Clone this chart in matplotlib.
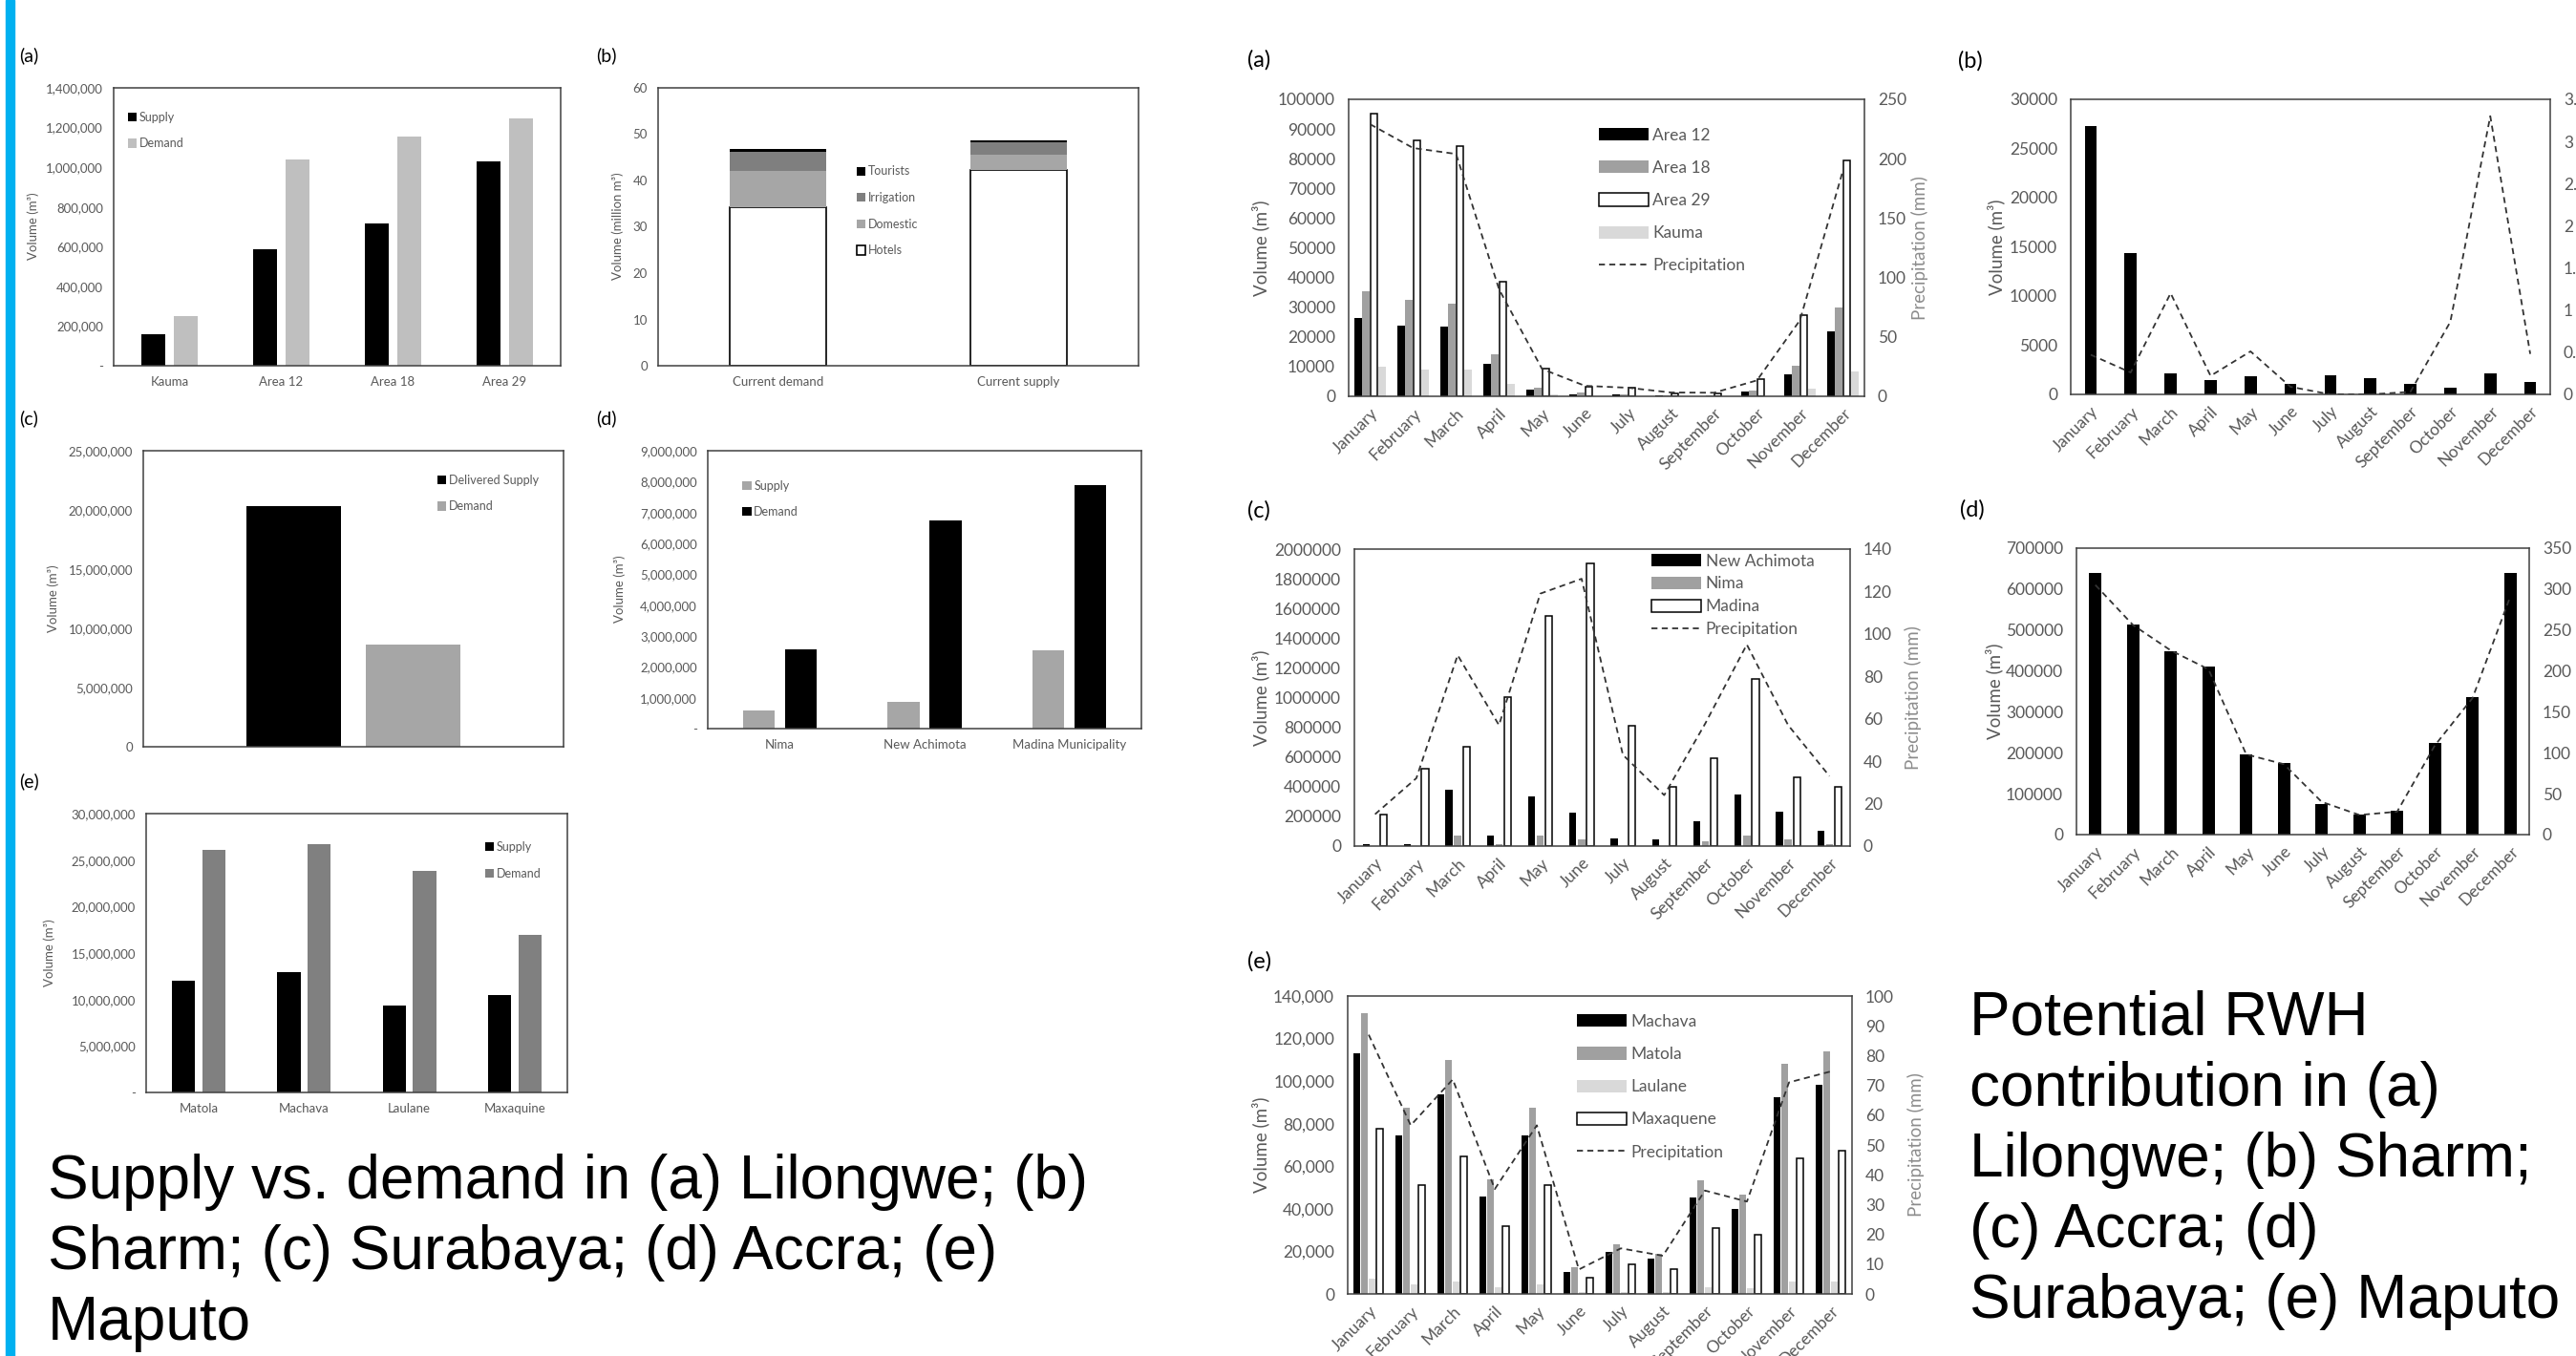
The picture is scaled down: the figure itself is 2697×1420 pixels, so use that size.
import matplotlib
matplotlib.use("Agg")
import matplotlib.pyplot as plt
import numpy as np
from matplotlib.patches import Rectangle
from matplotlib.ticker import FuncFormatter, MultipleLocator

plt.rcParams["font.family"] = ["Lato", "DejaVu Sans"]

W, H = 2697, 1420
TICK = "#595959"
FRAME = "#404040"

MONTHS = ["January", "February", "March", "April", "May", "June", "July",
          "August", "September", "October", "November", "December"]

# ---- left column: supply vs demand ----
LIL_AREAS = ["Kauma", "Area 12", "Area 18", "Area 29"]
LIL_SUPPLY = [157000, 587000, 718000, 1030000]
LIL_DEMAND = [249000, 1038000, 1153000, 1247000]

SHARM_CATS = ["Current demand", "Current supply"]
SHARM_HOTELS = [34.2, 42.2]
SHARM_DOMESTIC = [7.8, 3.3]
SHARM_IRRIGATION = [4.2, 2.7]
SHARM_TOURISTS = [0.7, 0.5]

SURA_SUPPLY = [20300000]
SURA_DEMAND = [8660000]

ACCRA_AREAS = ["Nima", "New Achimota", "Madina Municipality"]
ACCRA_SUPPLY = [600000, 865000, 2530000]
ACCRA_DEMAND = [2570000, 6750000, 7900000]

MAP_AREAS = ["Matola", "Machava", "Laulane", "Maxaquine"]
MAP_SUPPLY = [12060000, 12900000, 9330000, 10450000]
MAP_DEMAND = [26070000, 26700000, 23850000, 17000000]

# ---- right column: potential RWH contribution ----
LIL_A12 = [26300, 23800, 23400, 10900, 2100, 750, 700, 200, 100, 1700, 7500, 21900]
LIL_A18 = [35500, 32500, 31300, 14000, 3000, 1200, 500, 200, 200, 2000, 10300, 29800]
LIL_A29 = [95200, 86100, 84100, 38600, 9200, 3300, 2900, 1100, 1100, 5900, 27300, 79300]
LIL_KAUMA = [9900, 8900, 8900, 4100, 500, 0, 0, 0, 0, 0, 2700, 8400]
LIL_PRECIP = [229, 209, 204, 90, 23, 8.8, 7.2, 3.2, 3, 13.4, 64, 190]

SHARM_RWH = [27300, 14350, 2100, 1500, 1800, 1100, 1950, 1650, 1100, 650, 2100, 1230]
SHARM_PRECIP = [0.47, 0.26, 1.2, 0.22, 0.51, 0.09, 0, 0, 0.03, 0.86, 3.3, 0.48]

ACC_ACHIMOTA = [13000, 13000, 377000, 71000, 332000, 225000, 54000, 43000, 167000, 349000, 234000, 101000]
ACC_NIMA = [0, 0, 71000, 13000, 71000, 43000, 0, 0, 34000, 71000, 43000, 13000]
ACC_MADINA = [214000, 521000, 671000, 1003000, 1550000, 1904000, 810000, 397000, 590000, 1125000, 463000, 397000]
ACC_PRECIP = [15, 32, 90, 57, 119, 126, 43, 24, 58, 95, 57, 33]

SURA_RWH = [640000, 513000, 449000, 410000, 196000, 176000, 74000, 49000, 59000, 223000, 335000, 640000]
SURA_PRECIP = [305, 256, 225, 202, 98, 86, 40, 24, 28, 109, 167, 291]

MAP_MACHAVA = [113000, 74700, 94000, 45900, 74700, 10500, 19900, 16400, 45100, 39900, 92600, 98200]
MAP_MATOLA = [132000, 87400, 110000, 54000, 87400, 12400, 23500, 18700, 53300, 46600, 108000, 114000]
MAP_LAULANE = [7200, 4500, 5700, 3300, 4500, 1000, 1000, 700, 3300, 2500, 5700, 5700]
MAP_MAXAQUENE = [77700, 51100, 64500, 31700, 51100, 7800, 13700, 11700, 31100, 27600, 63800, 67200]
MAP_PRECIP = [87, 56.6, 72, 35.2, 56.6, 8.2, 15.3, 12.8, 34.7, 31, 71, 74.7]

LFS = 9.5    # left-column text size
RFS = 12.5   # right-column text size


def place(fig, box):
    x0, y0, x1, y1 = box
    return fig.add_axes([x0 / W, 1 - y1 / H, (x1 - x0) / W, (y1 - y0) / H])


def ftext(fig, x, y, s, **kw):
    return fig.text(x / W, 1 - y / H, s, **kw)


def frame(ax, fs, pad):
    for s in ax.spines.values():
        s.set_color(FRAME)
        s.set_linewidth(1.1)
    ax.tick_params(length=0, labelsize=fs, colors=TICK, pad=pad)


def acct(v, _):
    return "-" if v == 0 else f"{int(round(v)):,}"


def comma(v, _):
    return f"{int(round(v)):,}"


def plain(v, _):
    return f"{int(round(v))}" if float(v).is_integer() else f"{v:g}"


def left_legend(ax, x, y, handles=None, labels=None):
    if handles is None:
        handles, labels = ax.get_legend_handles_labels()
    ax.legend(handles, labels, loc="upper left", bbox_to_anchor=(x, y), frameon=False,
              fontsize=9, handlelength=0.75, handleheight=0.75, handletextpad=0.2,
              labelspacing=1.25, borderaxespad=0, borderpad=0, labelcolor=TICK)


def supply_demand(ax, cats, first, second, c1, c2, n1, n2, ymax, step, fmt):
    x = np.arange(len(cats))
    ax.bar(x - 0.145, first, 0.22, color=c1, label=n1)
    ax.bar(x + 0.145, second, 0.22, color=c2, label=n2)
    ax.set_xlim(-0.5, len(cats) - 0.5)
    ax.set_ylim(0, ymax)
    ax.yaxis.set_major_locator(MultipleLocator(step))
    ax.yaxis.set_major_formatter(FuncFormatter(fmt))
    ax.set_xticks(x, cats)
    frame(ax, LFS, 8)


fig = plt.figure(figsize=(W / 100, H / 100), dpi=100)
fig.patches.append(Rectangle((6 / W, 0), 9 / W, 1, transform=fig.transFigure,
                             color="#00B0F0", zorder=0))

# (a) Lilongwe
ax = place(fig, (119, 92, 587, 383))
supply_demand(ax, LIL_AREAS, LIL_SUPPLY, LIL_DEMAND, "black", "#BFBFBF",
              "Supply", "Demand", 1400000, 200000, acct)
left_legend(ax, 0.032, 0.915)
ftext(fig, 35, 237, "Volume (m³)", rotation=90, ha="center", va="center", fontsize=LFS, color=TICK)
ftext(fig, 20, 58, "(a)", fontsize=14, va="center")

# (b) Sharm
ax = place(fig, (689, 92, 1192, 383))
x = np.arange(len(SHARM_CATS))
b0 = np.zeros(2)
ax.bar(x, SHARM_HOTELS, 0.4, color="white", edgecolor="black", linewidth=1.2, label="Hotels")
b0 += SHARM_HOTELS
ax.bar(x, SHARM_DOMESTIC, 0.4, bottom=b0, color="#A6A6A6", label="Domestic")
b0 += SHARM_DOMESTIC
ax.bar(x, SHARM_IRRIGATION, 0.4, bottom=b0, color="#7F7F7F", label="Irrigation")
b0 += SHARM_IRRIGATION
ax.bar(x, SHARM_TOURISTS, 0.4, bottom=b0, color="black", label="Tourists")
ax.set_xlim(-0.5, 1.5)
ax.set_ylim(0, 60)
ax.yaxis.set_major_locator(MultipleLocator(10))
ax.set_xticks(x, SHARM_CATS)
frame(ax, LFS, 8)
h, l = ax.get_legend_handles_labels()
left_legend(ax, 0.413, 0.72, h[::-1], l[::-1])
ftext(fig, 647, 237, "Volume (million m³)", rotation=90, ha="center", va="center",
      fontsize=LFS, color=TICK)
ftext(fig, 624, 58, "(b)", fontsize=14, va="center")

# (c) Surabaya
ax = place(fig, (150, 472, 590, 782))
ax.bar([-0.142], SURA_SUPPLY, 0.223, color="black", label="Delivered Supply")
ax.bar([0.142], SURA_DEMAND, 0.223, color="#A6A6A6", label="Demand")
ax.set_xlim(-0.5, 0.5)
ax.set_ylim(0, 25000000)
ax.yaxis.set_major_locator(MultipleLocator(5000000))
ax.yaxis.set_major_formatter(FuncFormatter(comma))
ax.set_xticks([])
frame(ax, LFS, 8)
left_legend(ax, 0.70, 0.92)
ftext(fig, 56, 627, "Volume (m³)", rotation=90, ha="center", va="center", fontsize=LFS, color=TICK)
ftext(fig, 20, 438, "(c)", fontsize=14, va="center")

# (d) Accra
ax = place(fig, (741, 472, 1195, 763))
supply_demand(ax, ACCRA_AREAS, ACCRA_SUPPLY, ACCRA_DEMAND, "#A6A6A6", "black",
              "Supply", "Demand", 9000000, 1000000, acct)
left_legend(ax, 0.08, 0.895)
ftext(fig, 649, 617, "Volume (m³)", rotation=90, ha="center", va="center", fontsize=LFS, color=TICK)
ftext(fig, 624, 438, "(d)", fontsize=14, va="center")

# (e) Maputo
ax = place(fig, (153, 852, 594, 1144))
supply_demand(ax, MAP_AREAS, MAP_SUPPLY, MAP_DEMAND, "black", "#808080",
              "Supply", "Demand", 30000000, 5000000, acct)
left_legend(ax, 0.805, 0.90)
ftext(fig, 52, 998, "Volume (m³)", rotation=90, ha="center", va="center", fontsize=LFS, color=TICK)
ftext(fig, 20, 818, "(e)", fontsize=14, va="center")

ftext(fig, 50, 1312, "Supply vs. demand in (a) Lilongwe; (b)\nSharm; (c) Surabaya; (d) Accra; (e)\nMaputo",
      family="Liberation Sans", fontsize=46, va="center", ha="left", linespacing=1.3)


# ---- right column helpers ----
def month_panel(box, series, names, colors, edges, width, offsets, ymax, ystep, yfmt,
                precip, rmax, rstep, vol_x, precip_x=None):
    ax = place(fig, box)
    x = np.arange(12)
    for vals, nm, c, e, off in zip(series, names, colors, edges, offsets):
        ax.bar(x + off, vals, width, color=c, edgecolor=e,
               linewidth=1.1 if e != "none" else 0, label=nm)
    ax.set_xlim(-0.5, 11.5)
    ax.set_ylim(0, ymax)
    ax.yaxis.set_major_locator(MultipleLocator(ystep))
    ax.yaxis.set_major_formatter(FuncFormatter(yfmt))
    ax.set_xticks(x, MONTHS, rotation=45, ha="right", rotation_mode="anchor")
    frame(ax, RFS, 10)
    ax.tick_params(axis="x", pad=7)
    ax2 = ax.twinx()
    ax2.plot(x, precip, color="#333333", lw=1.3, dashes=(3.5, 2.5), label="Precipitation")
    ax2.set_ylim(0, rmax)
    ax2.yaxis.set_major_locator(MultipleLocator(rstep))
    ax2.yaxis.set_major_formatter(FuncFormatter(plain))
    for s in ax2.spines.values():
        s.set_visible(False)
    ax2.tick_params(length=0, labelsize=RFS, colors=TICK, pad=10)
    yc = (box[1] + box[3]) / 2
    ftext(fig, vol_x, yc, "Volume (m³)", rotation=90, ha="center", va="center",
          fontsize=13.5, color=TICK)
    if precip_x is not None:
        ftext(fig, precip_x, yc, "Precipitation (mm)", rotation=90, ha="center",
              va="center", fontsize=13.5, color="#8C8C8C")
    return ax, ax2


def month_legend(ax, ax2, x, y, spacing):
    h1, l1 = ax.get_legend_handles_labels()
    h2, l2 = ax2.get_legend_handles_labels()
    ax.legend(h1 + h2, l1 + l2, loc="upper left", bbox_to_anchor=(x, y), frameon=False,
              fontsize=12.5, handlelength=3.0, handleheight=0.8, handletextpad=0.25,
              labelspacing=spacing, borderaxespad=0, borderpad=0, labelcolor=TICK)


ax, ax2 = month_panel((1412, 104, 1952, 415),
                      [LIL_A12, LIL_A18, LIL_A29, LIL_KAUMA],
                      ["Area 12", "Area 18", "Area 29", "Kauma"],
                      ["black", "#A0A0A0", "white", "#D9D9D9"],
                      ["none", "none", "black", "none"],
                      0.17, [-0.28, -0.095, 0.085, 0.28],
                      100000, 10000, plain, LIL_PRECIP, 250, 50, 1320, 2010)
month_legend(ax, ax2, 0.485, 0.905, 1.05)
ftext(fig, 1306, 63, "(a)", fontsize=17, va="center")

ax, ax2 = month_panel((2168, 104, 2670, 413), [SHARM_RWH], ["RWH"], ["black"], ["none"],
                      0.3, [0], 30000, 5000, plain, SHARM_PRECIP, 3.5, 0.5, 2090)
ftext(fig, 2050, 64, "(b)", fontsize=17, va="center")

ax, ax2 = month_panel((1418, 575, 1937, 886),
                      [ACC_ACHIMOTA, ACC_NIMA, ACC_MADINA],
                      ["New Achimota", "Nima", "Madina"],
                      ["black", "#A0A0A0", "white"], ["none", "none", "black"],
                      0.17, [-0.21, 0.0, 0.21],
                      2000000, 200000, plain, ACC_PRECIP, 140, 20, 1320, 2003)
month_legend(ax, ax2, 0.6, 0.985, 0.45)
ftext(fig, 1306, 535, "(c)", fontsize=17, va="center")

ax, ax2 = month_panel((2174, 574, 2648, 874), [SURA_RWH], ["RWH"], ["black"], ["none"],
                      0.32, [0], 700000, 100000, plain, SURA_PRECIP, 350, 50, 2088)
ftext(fig, 2052, 534, "(d)", fontsize=17, va="center")

ax, ax2 = month_panel((1411, 1043, 1939, 1355),
                      [MAP_MACHAVA, MAP_MATOLA, MAP_LAULANE, MAP_MAXAQUENE],
                      ["Machava", "Matola", "Laulane", "Maxaquene"],
                      ["black", "#A0A0A0", "#D9D9D9", "white"],
                      ["none", "none", "none", "black"],
                      0.16, [-0.28, -0.11, 0.09, 0.26],
                      140000, 20000, comma, MAP_PRECIP, 100, 10, 1320, 2006)
month_legend(ax, ax2, 0.455, 0.94, 1.05)
ftext(fig, 1306, 1007, "(e)", fontsize=17, va="center")

ftext(fig, 2062, 1215, "Potential RWH\ncontribution in (a)\nLilongwe; (b) Sharm;\n(c) Accra; (d)\nSurabaya; (e) Maputo",
      family="Liberation Sans", fontsize=46, va="center", ha="left", linespacing=1.3)

fig.savefig("out.png", dpi=100)
